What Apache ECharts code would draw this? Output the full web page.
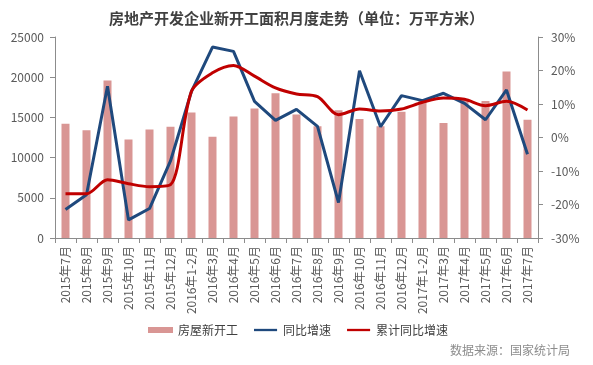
<!DOCTYPE html>
<html>
<head>
<meta charset="utf-8">
<script src="https://cdn.jsdelivr.net/npm/echarts@6/dist/echarts.min.js"></script>
<style>html,body{margin:0;padding:0;background:#fff}#c{width:593px;height:365px}</style>
</head>
<body>
<div id="c"></div>
<script>
const categories = ['2015年7月','2015年8月','2015年9月','2015年10月','2015年11月','2015年12月','2016年1-2月','2016年3月','2016年4月','2016年5月','2016年6月','2016年7月','2016年8月','2016年9月','2016年10月','2016年11月','2016年12月','2017年1-2月','2017年3月','2017年4月','2017年5月','2017年6月','2017年7月'];
const newStarts = [14200,13400,19600,12250,13500,13850,15600,12600,15100,16100,18000,15350,13900,15900,14800,13900,15700,17270,14300,17150,17050,20700,14700];
const yoyGrowth = [-21.5,-17.1,15.3,-24.6,-21.2,-7.0,13.8,27.0,25.7,10.8,5.1,8.4,3.3,-19.4,19.9,3.2,12.5,11.0,13.2,10.2,5.3,14.2,-5.0];
const cumGrowth = [-16.8,-16.8,-12.6,-13.8,-14.7,-14.1,13.8,19.3,21.5,18.3,14.8,13.0,12.2,6.8,8.5,7.9,8.5,10.5,11.8,11.4,9.5,10.8,8.2];
const leftTicks = {min:0,max:25000,interval:5000};
const rightTicks = {min:-30,max:30,interval:10};

const font = '"Noto Sans CJK SC", sans-serif';
const lineIcon = 'path://M0,0 M0,2 L25,2 L25,4.5 L0,4.5 Z M25,6.5';
const chart = echarts.init(document.getElementById('c'));
chart.setOption({
  animation:false,
  textStyle:{fontFamily:font},
  title:{text:'房地产开发企业新开工面积月度走势（单位：万平方米）',left:'center',top:6,
    textStyle:{fontSize:15,fontWeight:'bold',color:'#404040',fontFamily:font}},
  graphic:[{type:'text',left:450,top:344,style:{text:'数据来源：国家统计局',fill:'#8c8c8c',font:'12px "Noto Sans CJK SC", sans-serif'}}],
  legend:{left:148,top:324,padding:0,itemGap:16,itemWidth:25,itemHeight:6,
    textStyle:{fontSize:12,color:'#404040',fontFamily:font},
    data:[{name:'房屋新开工',icon:'rect'},{name:'同比增速',icon:lineIcon},{name:'累计同比增速',icon:lineIcon}]},
  grid:{left:55,right:55,top:37,bottom:127,containLabel:false},
  xAxis:{type:'category',data:categories,boundaryGap:true,
    axisLine:{lineStyle:{color:'#8c8c8c'}},
    axisTick:{show:true,alignWithLabel:false,length:5,lineStyle:{color:'#8c8c8c'}},
    axisLabel:{rotate:90,interval:0,fontSize:12,color:'#595959',margin:8,fontFamily:font}},
  yAxis:[
    {type:'value',min:leftTicks.min,max:leftTicks.max,interval:leftTicks.interval,
     axisLine:{show:true,lineStyle:{color:'#8c8c8c'}},axisTick:{show:true,length:5,lineStyle:{color:'#8c8c8c'}},
     splitLine:{show:false},axisLabel:{fontSize:12,color:'#595959',margin:11,formatter:function(v){return String(v);},fontFamily:font}},
    {type:'value',min:rightTicks.min,max:rightTicks.max,interval:rightTicks.interval,
     axisLine:{show:true,lineStyle:{color:'#8c8c8c'}},axisTick:{show:true,length:5,lineStyle:{color:'#8c8c8c'}},
     splitLine:{show:false},axisLabel:{fontSize:12,color:'#595959',margin:13,formatter:'{value}%',fontFamily:font}}
  ],
  series:[
    {name:'房屋新开工',type:'bar',data:newStarts,barWidth:8,itemStyle:{color:'#D99694'}},
    {name:'同比增速',type:'line',yAxisIndex:1,data:yoyGrowth,symbol:'none',smooth:false,
     lineStyle:{color:'#1F497D',width:3},itemStyle:{color:'#1F497D'}},
    {name:'累计同比增速',type:'line',yAxisIndex:1,data:cumGrowth,symbol:'none',smooth:0.3,
     lineStyle:{color:'#C00000',width:3},itemStyle:{color:'#C00000'}}
  ]
});
</script>
</body>
</html>
